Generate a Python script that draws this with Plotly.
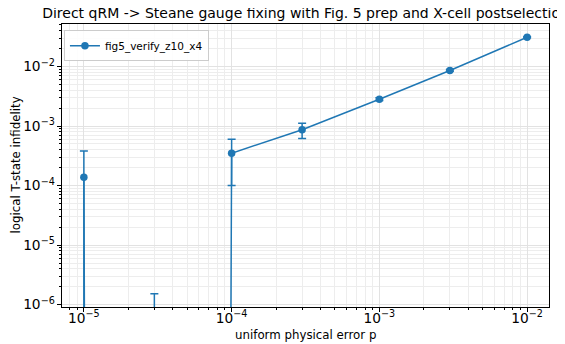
import numpy as np
import plotly.graph_objects as go

# Data
p_values = [1e-5, 3e-5, 1e-4, 3e-4, 1e-3, 3e-3, 1e-2]
infidelity = [1.38e-4, 0.0, 3.5e-4, 8.7e-4, 2.83e-3, 8.6e-3, 3.1e-2]
infidelity_err = [2.42e-4, 1.53e-6, 2.5e-4, 2.5e-4, 1.5e-4, 3.0e-4, 6.0e-4]
series_name = "fig5_verify_z10_x4"
title_text = "Direct qRM -> Steane gauge fixing with Fig. 5 prep and X-cell postselection"
x_label = "uniform physical error p"
y_label = "logical T-state infidelity"

# matplotlib-style clipping of non-positive values on a log axis
y_arr = np.array(infidelity, dtype=float)
y_plot = np.where(y_arr > 0, y_arr, 1e-300)

color = "#1f77b4"
font = "DejaVu Sans, Liberation Sans, sans-serif"
fs_tick = 11
fs_label = 11.8

fig = go.Figure()
fig.add_trace(go.Scatter(
    x=p_values, y=y_plot, name=series_name, mode="lines+markers",
    line=dict(color=color, width=1.5),
    marker=dict(color=color, size=7.5),
    error_y=dict(type="data", array=infidelity_err, symmetric=True,
                 color=color, thickness=1.5, width=4),
))

grid_major = "#e2e2e2"
grid_minor = "#ededed"

axis_common = dict(
    type="log", dtick=1, exponentformat="power",
    showline=True, linecolor="black", linewidth=1, mirror=True,
    ticks="outside", ticklen=4, tickcolor="black",
    showgrid=True, gridcolor=grid_major, gridwidth=1,
    minor=dict(dtick="D1", ticks="outside", ticklen=2, tickcolor="black",
               showgrid=True, gridcolor=grid_minor, gridwidth=1),
    tickfont=dict(size=fs_tick, color="black", family=font),
    zeroline=False, automargin=False,
)
fig.update_xaxes(range=[-5.148, -1.852], ticklabelstandoff=-5, **axis_common)
fig.update_yaxes(range=[-6.04, -1.285], **axis_common)

fig.add_annotation(text=x_label, xref="paper", yref="paper", x=0.5, y=0,
                   xanchor="center", yanchor="middle", yshift=-28, showarrow=False,
                   font=dict(size=fs_label, color="black", family=font))
fig.add_annotation(text=y_label, xref="paper", yref="paper", x=0, y=0.5,
                   xanchor="center", yanchor="middle", xshift=-47, textangle=-90,
                   showarrow=False, font=dict(size=fs_label, color="black", family=font))

# page body has an 8px default margin, so the figure is offset by (8, 8)
fig.update_layout(
    width=557, height=336,
    margin=dict(l=54, r=16, t=16, b=37),
    paper_bgcolor="white", plot_bgcolor="white",
    font=dict(family=font, color="black"),
    title=dict(text=title_text, x=0.5, xref="paper", xanchor="center",
               y=1 - 5 / 336, yref="container", yanchor="middle",
               font=dict(size=14, color="black", family=font)),
    showlegend=True,
    legend=dict(x=0.004, y=0.978, xanchor="left", yanchor="top",
                bgcolor="rgba(255,255,255,0.85)", bordercolor="#cccccc",
                borderwidth=1, font=dict(size=10.5, color="black", family=font)),
)

fig.write_html("out.html")
